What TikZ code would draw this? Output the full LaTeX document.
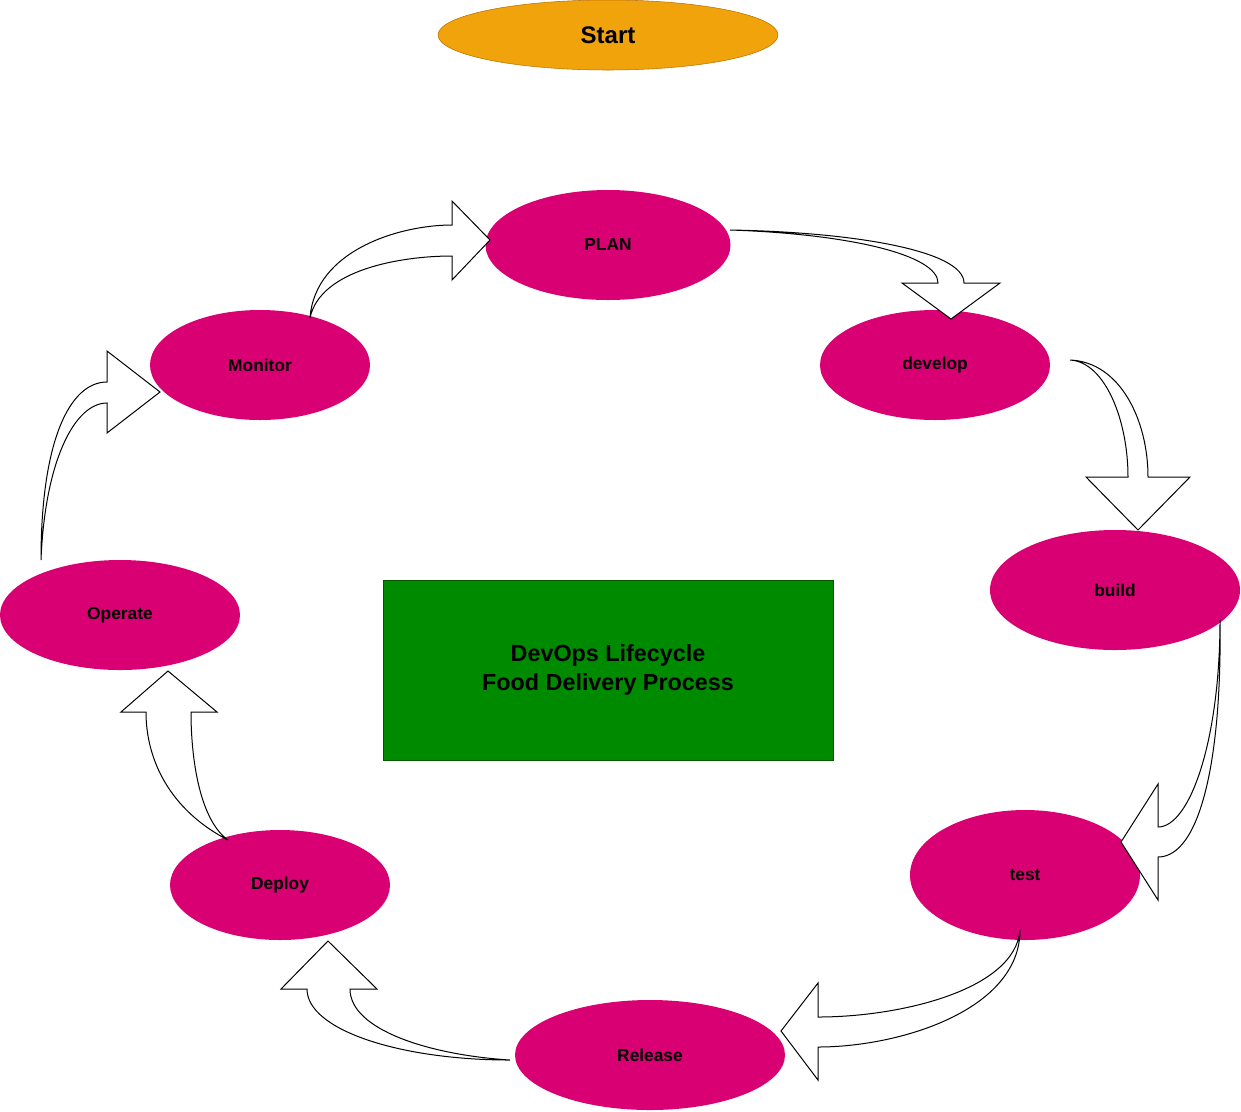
\documentclass[tikz,border=0pt]{standalone}
\usepackage{fontspec}
\setmainfont{Liberation Sans}
\usetikzlibrary{shapes.geometric}
\definecolor{stagepink}{HTML}{D80073}
\definecolor{startfill}{HTML}{F0A30A}
\definecolor{startedge}{HTML}{BD7000}
\definecolor{boxgreen}{HTML}{008A00}
\definecolor{boxedge}{HTML}{005700}
\begin{document}
\begin{tikzpicture}[
                x = 0.75pt, y = -0.75pt,
                wh/.style 2 args={minimum width=#1*0.75pt, minimum height=#2*0.75pt},
                stage/.style={ellipse, fill=stagepink, inner sep=0pt, font=\bfseries\fontsize{13}{15}\selectfont},
                flex/.style={draw=black, fill=white, line width=0.75pt}
            ]

                \useasboundingbox (0,0) rectangle (1241,1111);

                \node[ellipse, draw=startedge, fill=startfill, inner sep=0pt, wh={340}{70},
                      font=\bfseries\fontsize{18}{21}\selectfont] (start) at (608,35) {Start};

                \node[stage, wh={245}{110}] (plan) at (608,245) {PLAN};
                \node[stage, wh={230}{110}] (develop) at (935,365) {develop};
                \node[stage, wh={250}{120}] (build) at (1115,590) {build};
                \node[stage, wh={230}{130}] (test) at (1025,875) {test};
                \node[stage, wh={270}{110}] (release) at (650,1055) {Release};
                \node[stage, wh={220}{110}] (deploy) at (280,885) {Deploy};
                \node[stage, wh={240}{110}] (operate) at (120,615) {Operate};
                \node[stage, wh={220}{110}] (monitor) at (260,365) {Monitor};

                \node[draw=boxedge, fill=boxgreen, wh={450}{180}, align=center,
                      font=\bfseries\fontsize{17.5}{21.5}\selectfont] (title) at (608,670)
                      {DevOps Lifecycle\\Food Delivery Process};

                \coordinate (m-out) at (310,318);
                \coordinate (p-in) at (490,240);
                \coordinate (p-out) at (730,230);
                \coordinate (d-in) at (951,319);
                \coordinate (d-out) at (1070,360);
                \coordinate (b-in) at (1138,530);
                \coordinate (b-out) at (1220,620);
                \coordinate (t-in) at (1121,842);
                \coordinate (t-out) at (1020,930);
                \coordinate (r-in) at (781,1031);
                \coordinate (r-out) at (510,1060);
                \coordinate (dp-in) at (328,941);
                \coordinate (dp-out) at (228,840);
                \coordinate (o-in) at (168,671);
                \coordinate (o-out) at (41,560);
                \coordinate (m-in) at (160,392);

                \draw[flex] (m-out) .. controls (315,250) and (400,225) .. (452,225) -- (452,201) -- (p-in)
                    -- (452,280) -- (452,256) .. controls (400,256) and (320,270) .. (m-out) -- cycle;
                \draw[flex] (p-out) .. controls (850,232) and (964,250) .. (964,283) -- (1000,283) -- (d-in)
                    -- (902,283) -- (938,283) .. controls (938,255) and (850,234) .. (p-out) -- cycle;
                \draw[flex] (d-out) .. controls (1120,362) and (1148,420) .. (1148,477) -- (1190,477) -- (b-in)
                    -- (1086,477) -- (1128,477) .. controls (1128,420) and (1105,362) .. (d-out) -- cycle;
                \draw[flex] (b-out) .. controls (1222,760) and (1200,857) .. (1158,857) -- (1158,900) -- (t-in)
                    -- (1158,784) -- (1158,827) .. controls (1190,827) and (1220,740) .. (b-out) -- cycle;
                \draw[flex] (t-out) .. controls (1015,990) and (900,1017) .. (818,1017) -- (818,983) -- (r-in)
                    -- (818,1080) -- (818,1047) .. controls (900,1047) and (1020,1010) .. (t-out) -- cycle;
                \draw[flex] (r-out) .. controls (400,1060) and (307,1030) .. (307,989) -- (281,989) -- (dp-in)
                    -- (377,989) -- (350,989) .. controls (350,1030) and (430,1055) .. (r-out) -- cycle;
                \draw[flex] (dp-out) .. controls (170,810) and (146,760) .. (146,712) -- (121,712) -- (o-in)
                    -- (217,712) -- (191,712) .. controls (191,760) and (200,820) .. (dp-out) -- cycle;
                \draw[flex] (o-out) .. controls (41,440) and (70,382) .. (107,382) -- (107,351) -- (m-in)
                    -- (107,433) -- (107,403) .. controls (75,403) and (45,460) .. (o-out) -- cycle;
            \end{tikzpicture}
\end{document}
